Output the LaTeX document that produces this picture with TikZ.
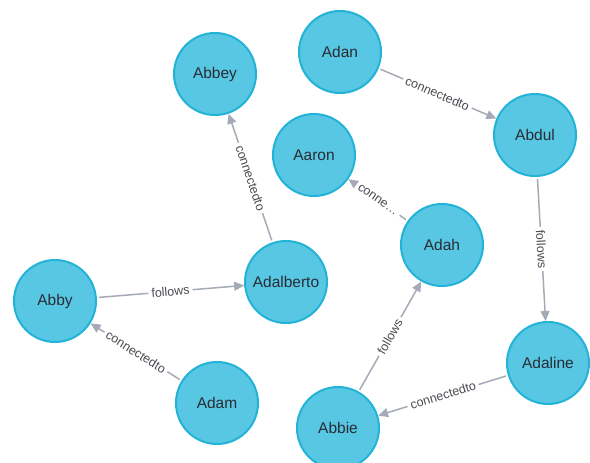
\documentclass[tikz,border=0pt]{standalone}
\usepackage{fontspec}
\setmainfont{Liberation Sans}
\usetikzlibrary{arrows.meta}
\definecolor{nodeblue}{HTML}{57C7E3}
\definecolor{nodeedge}{HTML}{23B3D7}
\definecolor{relgray}{HTML}{A5ABB6}
\definecolor{textdark}{HTML}{2A2C34}
\tikzset{
  person/.style={circle,draw=nodeedge,fill=nodeblue,line width=2pt,minimum size=82pt,inner sep=0pt,text=textdark,font=\fontsize{15.5}{18}\selectfont},
  rel/.style={-{Triangle[length=10pt,width=9pt]},draw=relgray,line width=1.5pt,shorten <=2pt},
  rellabel/.style={sloped,fill=white,inner sep=3pt,text=textdark!85,font=\fontsize{12.5}{14}\selectfont},
}

\begin{document}
\begin{tikzpicture}[x=1pt,y=-1pt]
			\useasboundingbox (0,0) rectangle (590,463);
			\node[person] (abbey) at (215,74) {Abbey};
			\node[person] (adan) at (340,52) {Adan};
			\node[person] (abdul) at (535,135) {Abdul};
			\node[person] (aaron) at (314,155) {Aaron};
			\node[person] (adah) at (442,245) {Adah};
			\node[person] (adalberto) at (286,282) {Adalberto};
			\node[person] (abby) at (55,301) {Abby};
			\node[person] (adam) at (217,403) {Adam};
			\node[person] (adaline) at (548,363) {Adaline};
			\node[person] (abbie) at (338,428) {Abbie};
			\draw[rel] (adalberto)--node[rellabel]{connectedto}(abbey);
			\draw[rel] (adan)--node[rellabel]{connectedto}(abdul);
			\draw[rel] (adah)--node[rellabel]{conne\ldots}(aaron);
			\draw[rel] (abdul)--node[rellabel]{follows}(adaline);
			\draw[rel] (abby)--node[rellabel]{follows}(adalberto);
			\draw[rel] (adam)--node[rellabel]{connectedto}(abby);
			\draw[rel] (abbie)--node[rellabel]{follows}(adah);
			\draw[rel] (adaline)--node[rellabel]{connectedto}(abbie);
		\end{tikzpicture}
\end{document}
